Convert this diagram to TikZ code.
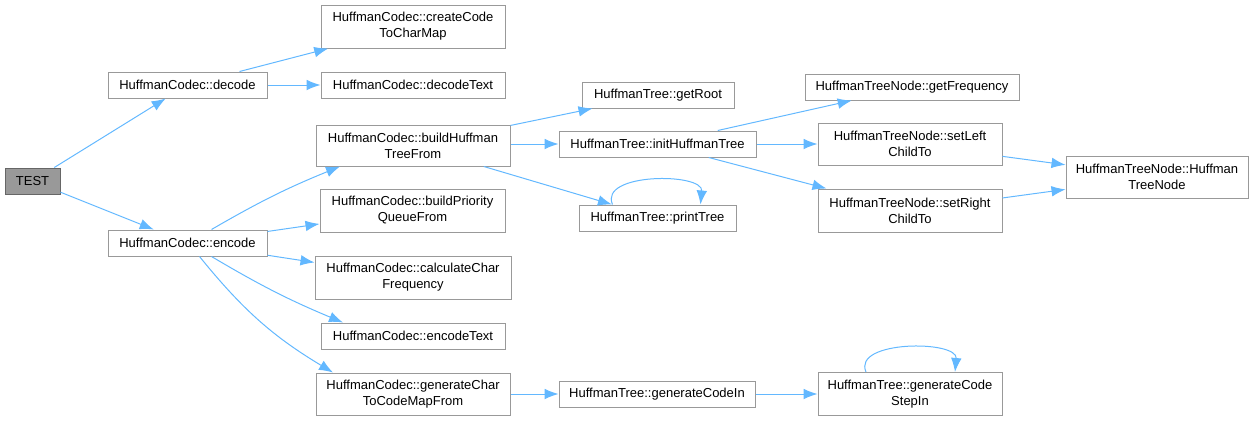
\documentclass[tikz,border=0pt]{standalone}
\usepackage{fontspec}
\setmainfont{Liberation Sans}
\usepackage{xcolor}
\usetikzlibrary{arrows.meta, calc}
\definecolor{edgeblue}{HTML}{63B8FF}
\definecolor{boxgray}{HTML}{999999}
\definecolor{rootgray}{HTML}{666666}

\begin{document}
\begin{tikzpicture}[x=0.75pt, y=-0.75pt,
					every node/.style = {font=\fontsize{9.75}{12}\selectfont, align=center, inner sep=1pt},
					boxsize/.style 2 args = {minimum width=#1*0.75pt, minimum height=#2*0.75pt}]

\tikzstyle{fn} = [rectangle, draw=boxgray, fill=white, line width=0.75pt]
\tikzstyle{root_fn} = [fn, draw=rootgray, fill=boxgray]
\tikzstyle{call} = [edgeblue, line width=0.75pt, -{Latex[length=10.5pt, width=8pt]}]

\useasboundingbox (0,0) rectangle (1256,421);

\node[root_fn, boxsize={55}{26}] (test) at (32.5,181) {TEST};
\node[fn, boxsize={159}{26}] (decode) at (187.5,85) {HuffmanCodec::decode};
\node[fn, boxsize={159}{26}] (encode) at (187.5,243) {HuffmanCodec::encode};

\node[fn, boxsize={184}{43}] (mkcodemap) at (413,26.5) {HuffmanCodec::createCode\\ToCharMap};
\node[fn, boxsize={184}{26}] (decodetext) at (413,85) {HuffmanCodec::decodeText};
\node[fn, boxsize={194}{41}] (buildtree) at (413,145.5) {HuffmanCodec::buildHuffman\\TreeFrom};
\node[fn, boxsize={185}{43}] (buildqueue) at (412.5,210.5) {HuffmanCodec::buildPriority\\QueueFrom};
\node[fn, boxsize={196}{43}] (calcfreq) at (413,277.5) {HuffmanCodec::calculateChar\\Frequency};
\node[fn, boxsize={184}{26}] (encodetext) at (413,336) {HuffmanCodec::encodeText};
\node[fn, boxsize={194}{42}] (mkcharmap) at (413,394) {HuffmanCodec::generateChar\\ToCodeMapFrom};

\node[fn, boxsize={152}{26}] (getroot) at (658,95) {HuffmanTree::getRoot};
\node[fn, boxsize={197}{26}] (inittree) at (657.5,144) {HuffmanTree::initHuffmanTree};
\node[fn, boxsize={157}{26}] (printtree) at (657.5,218) {HuffmanTree::printTree};
\node[fn, boxsize={196}{26}] (codein) at (657,394) {HuffmanTree::generateCodeIn};

\node[fn, boxsize={214}{26}] (getfreq) at (912,87) {HuffmanTreeNode::getFrequency};
\node[fn, boxsize={184}{42}] (setleft) at (910,144) {HuffmanTreeNode::setLeft\\ChildTo};
\node[fn, boxsize={184}{43}] (setright) at (910,210.5) {HuffmanTreeNode::setRight\\ChildTo};
\node[fn, boxsize={184}{43}] (codestep) at (910,394) {HuffmanTree::generateCode\\StepIn};
\node[fn, boxsize={182}{42}] (treenode) at (1157,177) {HuffmanTreeNode::Huffman\\TreeNode};

\draw[call] (test) -- (decode);
\draw[call] (test) -- (encode);
\draw[call] (decode) -- (mkcodemap);
\draw[call] (decode) -- (decodetext);
\draw[call] ($(encode.north)+(24,0)$) to[bend left=4] ($(buildtree.south)+(-73,0)$);
\draw[call] (encode) -- (buildqueue);
\draw[call] (encode) -- (calcfreq);
\draw[call] ($(encode.south)+(24,0)$) to[bend right=4] ($(encodetext.north)+(-70,0)$);
\draw[call] ($(encode.south)+(12,0)$) to[bend right=10] ($(mkcharmap.north)+(-80,0)$);
\draw[call] (buildtree) -- (getroot);
\draw[call] (buildtree.east |- inittree) -- (inittree);
\draw[call] (buildtree) -- (printtree);
\draw[call] ($(printtree.north)+(-45,0)$) .. controls +(-14,-32) and +(3,-32) .. ($(printtree.north)+(43,0)$);
\draw[call] (inittree) -- (getfreq);
\draw[call] (inittree) -- (setleft);
\draw[call] (inittree) -- (setright);
\draw[call] (setleft) -- (treenode);
\draw[call] (setright) -- (treenode);
\draw[call] (mkcharmap) -- (codein);
\draw[call] (codein) -- (codestep);
\draw[call] ($(codestep.north)+(-44,0)$) .. controls +(-14,-32) and +(3,-32) .. ($(codestep.north)+(45,0)$);
\end{tikzpicture}
\end{document}
